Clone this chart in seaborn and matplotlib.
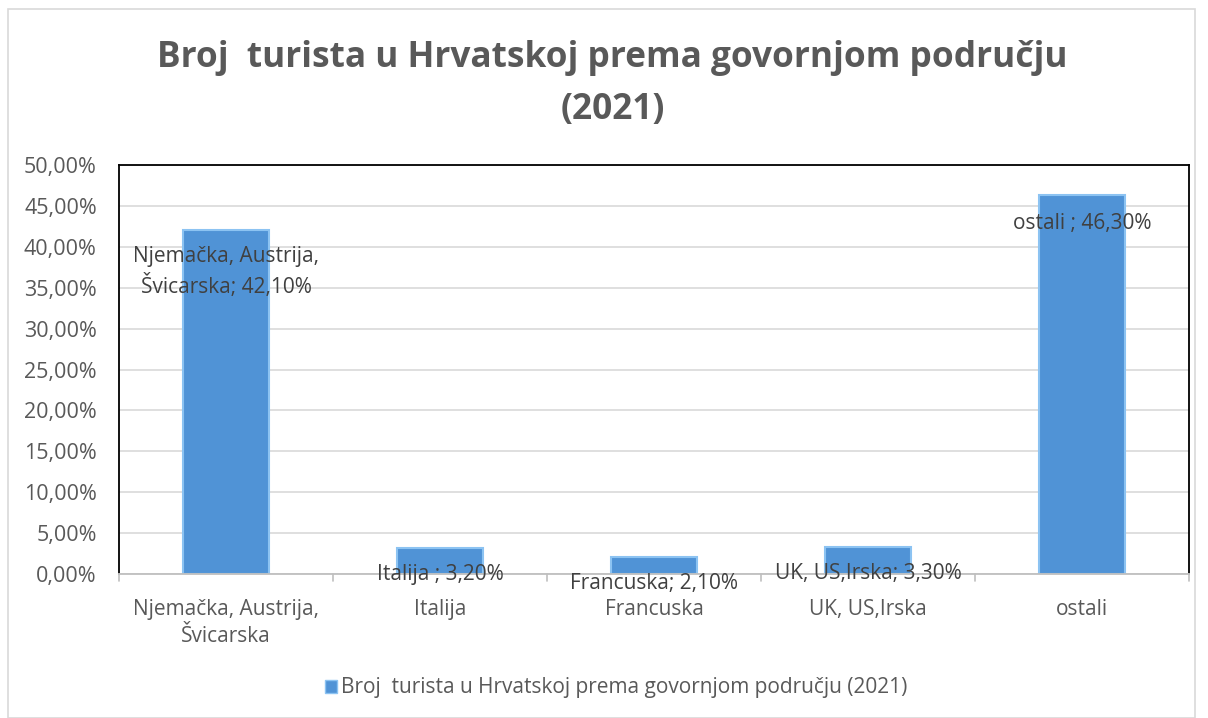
import matplotlib
matplotlib.use("Agg")
import matplotlib.pyplot as plt
import matplotlib.patches as mpatches
import seaborn as sns
import pandas as pd

categories = ["Njemačka, Austrija,\nŠvicarska", "Italija", "Francuska", "UK, US,Irska", "ostali"]
values = [42.10, 3.20, 2.10, 3.30, 46.30]
label_texts = ["Njemačka, Austrija,\nŠvicarska; 42,10%", "Italija ; 3,20%", "Francuska; 2,10%",
               "UK, US,Irska; 3,30%", "ostali ; 46,30%"]
label_y = [36.9, -0.1, -1.2, 0.1, 42.8]
yticks = [0, 5, 10, 15, 20, 25, 30, 35, 40, 45, 50]
series_name = "Broj  turista u Hrvatskoj prema govornjom području (2021)"
title = "Broj  turista u Hrvatskoj prema govornjom području\n(2021)"

sns.set_style("white")
plt.rcParams['font.family'] = ['Open Sans', 'DejaVu Sans']
txt = "#595959"
fs = 15
bar_color = "#5093D6"

fig = plt.figure(figsize=(12.08, 7.18), dpi=100)
ax = fig.add_axes([119/1208, 1 - 574/718, (1189-119)/1208, (574-165)/718])

df = pd.DataFrame({"cat": categories, "val": values})
sns.barplot(data=df, x="cat", y="val", ax=ax, color=bar_color, width=0.4,
            edgecolor="#8CC3F2", linewidth=1.5, saturation=1, zorder=3)

ax.set_ylim(0, 50)
ax.set_xlim(-0.5, 4.5)
ax.set_yticks(yticks)
ax.set_yticklabels([f"{v:.2f}%".replace(".", ",") for v in yticks], color=txt, fontsize=15.5)
ax.yaxis.grid(True, color="#D9D9D9", linewidth=1.2, zorder=0)
ax.set_axisbelow(True)
ax.set_xlabel("")
ax.set_ylabel("")
ax.set_xticks(range(len(categories)))
ax.set_xticklabels(categories, color=txt, fontsize=fs, linespacing=1.35)
ax.tick_params(axis="y", length=0, pad=16)
ax.tick_params(axis="x", length=0, pad=18)
for b in [-0.5, 0.5, 1.5, 2.5, 3.5, 4.5]:
    ax.plot([b, b], [0, -0.9], color="#BFBFBF", lw=1.2, clip_on=False, zorder=4)

for s in ["top", "right", "left"]:
    ax.spines[s].set_color("black")
    ax.spines[s].set_linewidth(1.3)
ax.spines["bottom"].set_color("#BFBFBF")
ax.spines["bottom"].set_linewidth(1.3)
ax.spines["bottom"].set_zorder(4)

for i, (t, yv) in enumerate(zip(label_texts, label_y)):
    ax.text(i, yv, t, ha="center", va="center", color="#404040", fontsize=fs,
            linespacing=1.35, zorder=5, clip_on=False)

fig.text(0.507, 1 - 84/718, title, ha="center", va="center", fontsize=25.4, fontweight="bold",
         color=txt, linespacing=1.6)

handle = mpatches.Patch(facecolor=bar_color, edgecolor="#8CC3F2", label=series_name)
fig.legend(handles=[handle], loc="center", bbox_to_anchor=(0.51, 1 - 688/718), frameon=False,
           fontsize=fs, labelcolor=txt, handlelength=0.6, handleheight=0.6, handletextpad=0.2)

fig.patches.append(mpatches.Rectangle((8/1208, 0), (1195-8)/1208, (718-8)/718 - 0.001,
                                      transform=fig.transFigure, fill=False,
                                      edgecolor="#D9D9D9", lw=1.2))

fig.savefig("out.png", dpi=100, facecolor="white")
